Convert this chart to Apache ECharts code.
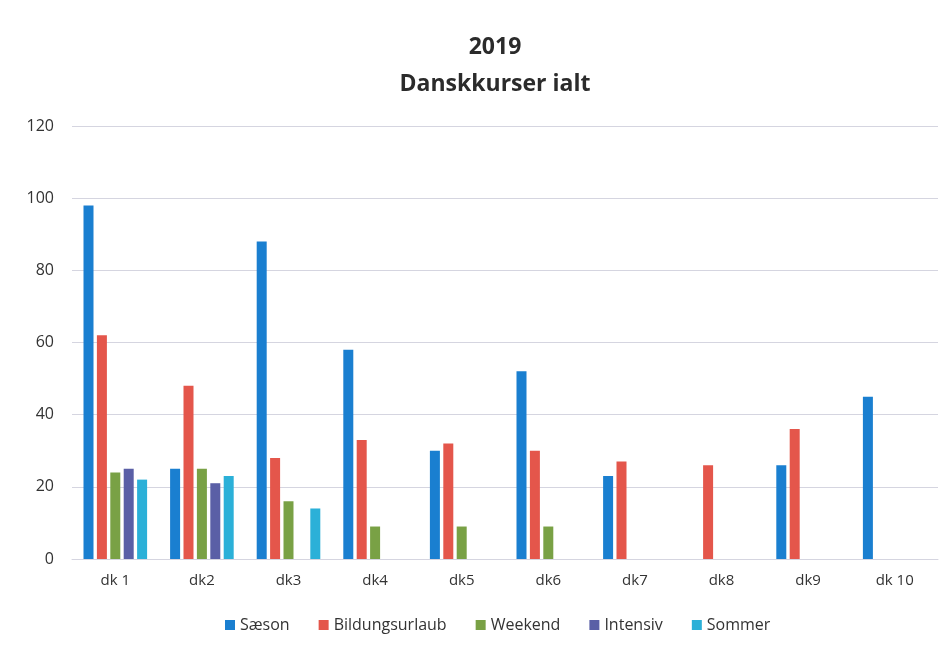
<!DOCTYPE html>
<html>
<head>
    <meta charset="utf-8">
    <title>Danskkurser ialt 2019</title>
    <script src="https://cdn.jsdelivr.net/npm/echarts@6/dist/echarts.min.js"></script>
    <style>
        html, body { margin: 0; padding: 0; background: #fff; }
        #chart { width: 952px; height: 650px; }
    </style>
</head>
<body>
<div id="chart"></div>
<script type="text/javascript">
    // kategorier (kurser)
    var kurser = ['dk 1', 'dk2', 'dk3', 'dk4', 'dk5', 'dk6', 'dk7', 'dk8', 'dk9', 'dk 10'];

    // værdier pr. serie (null = ingen søjle)
    var saeson = [98, 25, 88, 58, 30, 52, 23, null, 26, 45];
    var bildungsurlaub = [62, 48, 28, 33, 32, 30, 27, 26, 36, null];
    var weekend = [24, 25, 16, 9, 9, 9, null, null, null, null];
    var intensiv = [25, 21, null, null, null, null, null, null, null, null];
    var sommer = [22, 23, 14, null, null, null, null, null, null, null];

    var yTicks = [0, 20, 40, 60, 80, 100, 120];

    var font = '"Open Sans", "Noto Sans", sans-serif';

    function bar(name, data, color) {
        return {
            name: name,
            type: 'bar',
            data: data,
            barWidth: 10,
            barGap: '34%',
            itemStyle: { color: color }
        };
    }

    var myChart = echarts.init(document.getElementById('chart'));

    myChart.setOption({
        backgroundColor: '#ffffff',
        animation: false,
        title: {
            text: '2019\nDanskkurser ialt',
            left: 490,
            textAlign: 'center',
            top: 24,
            textStyle: {
                fontFamily: font,
                fontSize: 23,
                fontWeight: 'bold',
                color: '#2b2b2b',
                lineHeight: 37
            }
        },
        legend: {
            bottom: 12,
            left: 220,
            itemWidth: 10,
            itemHeight: 10,
            itemGap: 29,
            icon: 'rect',
            textStyle: { fontFamily: font, fontSize: 16, color: '#333' },
            data: ['Sæson', 'Bildungsurlaub', 'Weekend', 'Intensiv', 'Sommer']
        },
        grid: {
            left: 72,
            right: 14,
            top: 126,
            bottom: 91
        },
        xAxis: {
            type: 'category',
            data: kurser,
            axisTick: { show: false },
            axisLine: { lineStyle: { color: '#d5d5e0', width: 1 } },
            axisLabel: { fontFamily: font, fontSize: 15, color: '#333', margin: 14 }
        },
        yAxis: {
            type: 'value',
            min: yTicks[0],
            max: yTicks[yTicks.length - 1],
            interval: 20,
            axisLine: { show: false },
            axisTick: { show: false },
            axisLabel: { fontFamily: font, fontSize: 16, color: '#333', margin: 18 },
            splitLine: { lineStyle: { color: '#d5d5e0', width: 1 } }
        },
        series: [
            bar('Sæson', saeson, '#1a7fd0'),
            bar('Bildungsurlaub', bildungsurlaub, '#e4564b'),
            bar('Weekend', weekend, '#79a145'),
            bar('Intensiv', intensiv, '#5a5fa6'),
            bar('Sommer', sommer, '#2bb0d8')
        ]
    });
</script>
</body>
</html>
